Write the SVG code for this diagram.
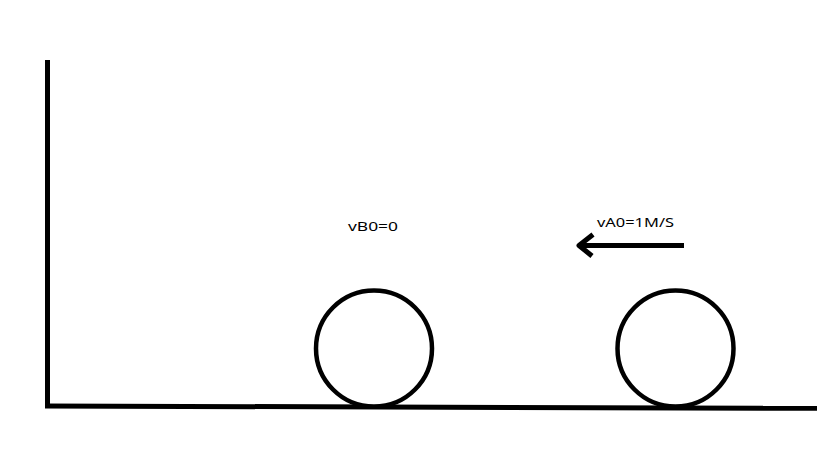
<svg xmlns="http://www.w3.org/2000/svg" width="819" height="460" viewBox="0 0 819 460">
<style>
.ln{stroke:#000;stroke-width:5;fill:none;stroke-linecap:butt;stroke-linejoin:round}
.ball{stroke:#000;stroke-width:4.5;fill:#fff}
.lbl{font-family:"Noto Sans","Liberation Sans",sans-serif;font-size:13px;fill:#000}
</style>
<rect width="819" height="460" fill="#fff"/>
<g id="wall">
<line class="ln" x1="47.5" y1="60" x2="47.5" y2="408"/>
</g>
<g id="ground">
<line class="ln" x1="45" y1="406" x2="817" y2="408.3"/>
</g>
<g id="ballB">
<circle class="ball" cx="374" cy="348.5" r="58"/>
<text class="lbl" x="348" y="231" textLength="50" lengthAdjust="spacingAndGlyphs">vB0=0</text>
</g>
<g id="ballA">
<circle class="ball" cx="675.5" cy="348.5" r="58"/>
<text class="lbl" x="597" y="227" textLength="77" lengthAdjust="spacingAndGlyphs">vA0=1M/S</text>
</g>
<g id="connectors">
<line class="ln" x1="684" y1="245.5" x2="580" y2="245.5"/>
<polyline class="ln" points="593,234.5 579,245.5 592,256" stroke-linecap="round"/>
</g>
</svg>
